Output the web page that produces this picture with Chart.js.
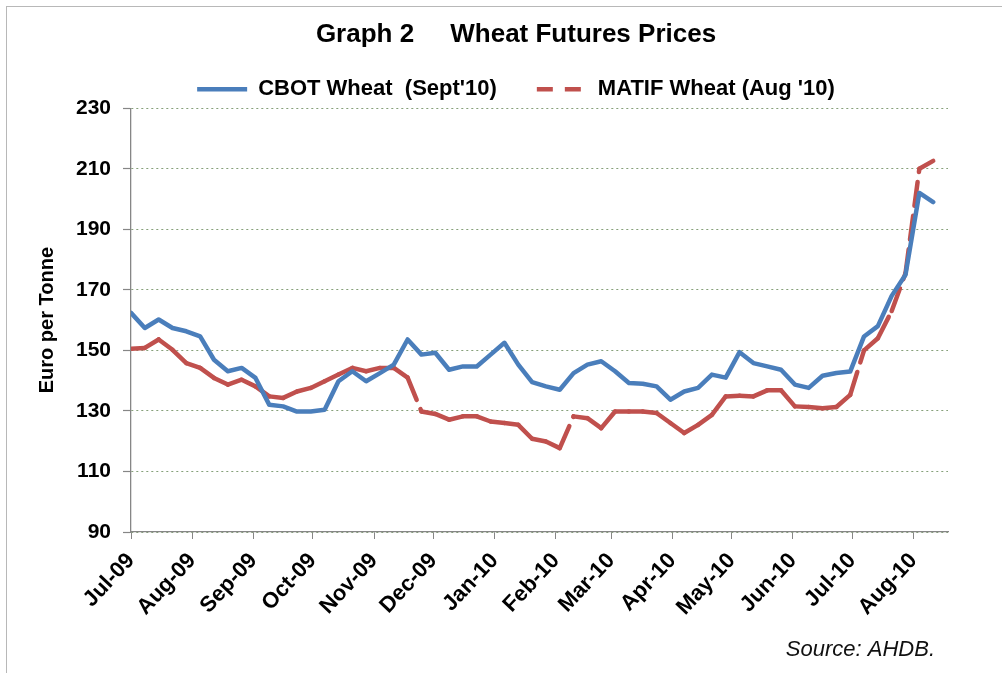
<!DOCTYPE html>
<html>
<head>
<meta charset="utf-8">
<title>Wheat Futures Prices</title>
<script src="https://cdn.jsdelivr.net/npm/chart.js@4.4.0/dist/chart.umd.min.js"></script>
<style>
  html, body { margin: 0; padding: 0; background: #fff; }
  #wrap { position: relative; width: 1002px; height: 673px; overflow: hidden; }
  #frame { position: absolute; left: 6px; top: 6px; width: 1100px; height: 800px;
           border-left: 1px solid #b8b8b8; border-top: 1px solid #b8b8b8; pointer-events: none; }
</style>
</head>
<body>
<div id="wrap">
  <canvas id="wheat" width="1002" height="673"></canvas>
  <div id="frame"></div>
</div>
<script>
// weekly observation dates
const weeks = [
  "2009-07-01", "2009-07-08", "2009-07-15", "2009-07-22", "2009-07-29",
  "2009-08-05", "2009-08-12", "2009-08-19", "2009-08-26", "2009-09-02",
  "2009-09-09", "2009-09-16", "2009-09-23", "2009-09-30", "2009-10-07",
  "2009-10-14", "2009-10-21", "2009-10-28", "2009-11-04", "2009-11-11",
  "2009-11-18", "2009-11-25", "2009-12-02", "2009-12-09", "2009-12-16",
  "2009-12-23", "2009-12-30", "2010-01-06", "2010-01-13", "2010-01-20",
  "2010-01-27", "2010-02-03", "2010-02-10", "2010-02-17", "2010-02-24",
  "2010-03-03", "2010-03-10", "2010-03-17", "2010-03-24", "2010-03-31",
  "2010-04-07", "2010-04-14", "2010-04-21", "2010-04-28", "2010-05-05",
  "2010-05-12", "2010-05-19", "2010-05-26", "2010-06-02", "2010-06-09",
  "2010-06-16", "2010-06-23", "2010-06-30", "2010-07-07", "2010-07-14",
  "2010-07-21", "2010-07-28", "2010-08-04", "2010-08-11"
];

// Euro per tonne
const cbot = [
  162.4, 157.4, 160.2, 157.4, 156.3, 154.6, 146.9, 143.1, 144.2, 140.9,
  132.0, 131.5, 129.8, 129.8, 130.4, 139.8, 143.1, 139.8, 142.5, 145.3,
  153.6, 148.6, 149.2, 143.6, 144.7, 144.7, 148.6, 152.5, 145.3, 139.5,
  138.1, 137.0, 142.5, 145.3, 146.4, 143.1, 139.2, 139.0, 138.1, 133.7,
  136.4, 137.6, 142.0, 141.0, 149.4, 145.8, 144.7, 143.6, 138.7, 137.6,
  141.6, 142.5, 143.0, 154.6, 158.0, 168.0, 175.0, 202.0, 199.0
];
const matif = [
  150.5, 150.8, 153.6, 150.2, 145.8, 144.2, 140.9, 138.7, 140.3, 138.1,
  134.8, 134.3, 136.4, 137.6, 139.8, 142.0, 144.2, 143.1, 144.2, 144.2,
  141.0, 129.8, 129.0, 127.1, 128.2, 128.2, 126.5, 126.0, 125.4, 120.8,
  119.9, 117.7, 128.2, 127.6, 124.3, 129.8, 129.8, 129.8, 129.3, 126.0,
  122.7, 125.4, 128.7, 134.8, 135.0, 134.8, 136.8, 136.8, 131.5, 131.3,
  130.9, 131.3, 135.3, 150.0, 154.0, 163.0, 175.5, 210.0, 212.6
];

const monthStarts = [
  "2009-07-01", "2009-08-01", "2009-09-01", "2009-10-01", "2009-11-01",
  "2009-12-01", "2010-01-01", "2010-02-01", "2010-03-01", "2010-04-01",
  "2010-05-01", "2010-06-01", "2010-07-01", "2010-08-01"
];
const monthLabels = [
  "Jul-09", "Aug-09", "Sep-09", "Oct-09", "Nov-09", "Dec-09", "Jan-10",
  "Feb-10", "Mar-10", "Apr-10", "May-10", "Jun-10", "Jul-10", "Aug-10"
];
const yTicks = [90, 110, 130, 150, 170, 190, 210, 230];

const seriesNames = ["CBOT Wheat  (Sept'10)", "MATIF Wheat (Aug '10)"];
const chartTitle = "Graph 2     Wheat Futures Prices";
const yTitle = "Euro per Tonne";
const sourceText = "Source: AHDB.";

// ---------- helpers ----------
const FONT = '"Liberation Sans", Arial, Helvetica, sans-serif';
const AXIS_GREY = "#868686";
const GRID_GREEN = "#86a07a";

const origin = Date.parse(monthStarts[0]);
const dayNum = s => (Date.parse(s) - origin) / 864e5;
const toPoints = vals => vals.map((v, i) => ({ x: dayNum(weeks[i]), y: v }));

// source note under the plot, right aligned
const sourceNote = {
  id: "sourceNote",
  afterDraw(chart) {
    const ctx = chart.ctx;
    ctx.save();
    ctx.font = "italic 22px " + FONT;
    ctx.fillStyle = "#111";
    ctx.textAlign = "right";
    ctx.textBaseline = "middle";
    ctx.fillText(sourceText, chart.chartArea.right - 13, 650);
    ctx.restore();
  }
};

const canvas = document.getElementById("wheat");

new Chart(canvas, {
  type: "line",
  data: {
    datasets: [
      {
        label: seriesNames[0],
        data: toPoints(cbot),
        borderColor: "#4a7ebb",
        backgroundColor: "#4a7ebb",
        borderWidth: 4.5,
        borderCapStyle: "round",
        borderJoinStyle: "round",
        pointRadius: 0,
        tension: 0
      },
      {
        label: seriesNames[1],
        data: toPoints(matif),
        borderColor: "#c0504d",
        backgroundColor: "#c0504d",
        borderWidth: 4.5,
        borderDash: [24, 10],
        borderCapStyle: "round",
        borderJoinStyle: "round",
        pointRadius: 0,
        tension: 0,
        // restart the dash on every segment, like the spreadsheet does
        segment: {
          borderDashOffset: ctx => (ctx.p0DataIndex % 2) * 0.01
        }
      }
    ]
  },
  options: {
    responsive: false,
    animation: false,
    events: [],
    layout: { padding: { left: 30, right: 0, top: 0, bottom: 0 } },
    plugins: {
      title: {
        display: true,
        text: chartTitle,
        color: "#000",
        font: { family: FONT, size: 26, weight: "bold" },
        padding: { top: 19, bottom: -12 }
      },
      legend: {
        display: true,
        position: "top",
        maxHeight: 70,
        labels: {
          usePointStyle: true,
          pointStyle: "line",
          pointStyleWidth: 50,
          padding: 40,
          color: "#000",
          font: { family: FONT, size: 22, weight: "bold" },
          // shorter dashes in the key so the red sample reads as dashed
          generateLabels: chart => {
            const items = Chart.defaults.plugins.legend.labels.generateLabels(chart);
            if (items[1]) items[1].lineDash = [16, 12];
            return items;
          }
        }
      },
      tooltip: { enabled: false }
    },
    scales: {
      x: {
        type: "linear",
        min: 0,
        max: 413.5,
        afterBuildTicks: s => { s.ticks = monthStarts.map(d => ({ value: dayNum(d) })); },
        afterFit: s => { s.height = 141; },
        ticks: {
          autoSkip: false,
          minRotation: 47,
          maxRotation: 47,
          padding: 9,
          color: "#000",
          font: { family: FONT, size: 22, weight: "bold" },
          callback: (v, i) => monthLabels[i]
        },
        grid: {
          drawOnChartArea: false,
          drawTicks: true,
          tickLength: 7,
          tickColor: AXIS_GREY,
          color: AXIS_GREY
        },
        border: { color: AXIS_GREY, width: 1.3 }
      },
      y: {
        type: "linear",
        min: 90,
        max: 230,
        afterBuildTicks: s => { s.ticks = yTicks.map(v => ({ value: v })); },
        afterFit: s => { s.width = 101; },
        ticks: {
          padding: 12,
          color: "#000",
          font: { family: FONT, size: 21, weight: "bold" }
        },
        grid: {
          color: GRID_GREEN,
          lineWidth: 1,
          tickLength: 8,
          tickColor: AXIS_GREY,
          tickWidth: 1.2
        },
        border: { color: AXIS_GREY, width: 1.3, dash: [2, 3] },
        title: {
          display: true,
          text: yTitle,
          color: "#000",
          font: { family: FONT, size: 20, weight: "bold" },
          padding: { top: 5, bottom: 0 }
        }
      },
      // empty right-hand axis that only reserves the margin right of the plot
      spare: {
        type: "linear",
        position: "right",
        display: true,
        afterFit: s => { s.width = 54; },
        ticks: { display: false },
        grid: { display: false, drawTicks: false },
        border: { display: false }
      }
    }
  },
  plugins: [sourceNote]
});
</script>
</body>
</html>
